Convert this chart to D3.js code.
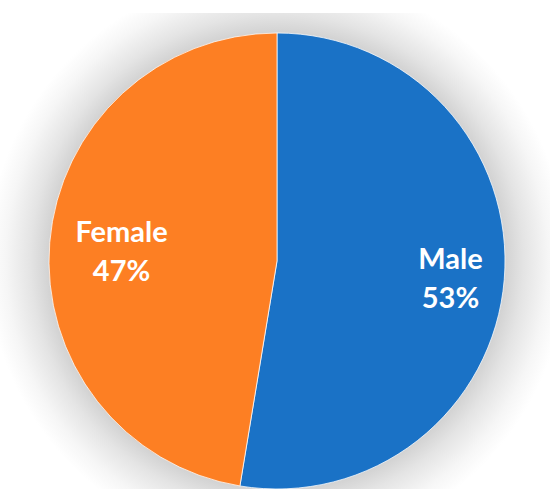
<!DOCTYPE html>
<html>
<head>
<meta charset="utf-8">
<script src="https://cdn.jsdelivr.net/npm/d3@7"></script>
<style>
  body { margin: 0; background: #fff; }
  svg { display: block; }
</style>
</head>
<body>
<svg id="chart"></svg>
<script>
const categories = ['Male', 'Female'];
const values = [52.6, 47.4];
const labels = ['53%', '47%'];
const colors = ['#1a72c6', '#fd7f23'];

const width = 550, height = 504;
const cx = 277, cy = 261, radius = 228;

const svg = d3.select('#chart')
    .attr('width', width)
    .attr('height', height);

// soft glow behind the pie
const defs = svg.append('defs');
const glow = defs.append('radialGradient')
    .attr('id', 'glow')
    .attr('gradientUnits', 'userSpaceOnUse')
    .attr('cx', cx).attr('cy', cy).attr('r', radius + 62);
const k = radius / (radius + 62);
[[0, '#d2d2d2'], [k, '#d2d2d2'], [k + (1 - k) * 0.3, '#e4e4e4'], [k + (1 - k) * 0.7, '#f6f6f6'], [1, '#ffffff']]
    .forEach(([o, c]) => glow.append('stop').attr('offset', o).attr('stop-color', c));

svg.append('rect')
    .attr('x', 0).attr('y', 13)
    .attr('width', width).attr('height', 476)
    .attr('fill', 'url(#glow)');

const data = categories.map((c, i) => ({ name: c, value: values[i], label: labels[i], color: colors[i] }));

const pie = d3.pie().sort(null).value(d => d.value);
const arc = d3.arc().innerRadius(0).outerRadius(radius);
const labelArc = d3.arc().innerRadius(165).outerRadius(165);

const g = svg.append('g').attr('transform', `translate(${cx},${cy})`);

const arcs = pie(data);

g.selectAll('path')
    .data(arcs)
    .enter().append('path')
    .attr('d', arc)
    .attr('fill', d => d.data.color)
    .attr('stroke', '#ffffff')
    .attr('stroke-width', 0.75);

const lbl = g.selectAll('.label')
    .data(arcs)
    .enter().append('text')
    .attr('class', 'label')
    .attr('transform', d => {
        const [x, y] = labelArc.centroid(d);
        return `translate(${x + 9},${y})`;
    })
    .attr('text-anchor', 'middle')
    .attr('fill', '#ffffff')
    .style('font-family', 'Lato, "Open Sans", sans-serif')
    .style('font-weight', 'bold')
    .style('font-size', '29px');

lbl.append('tspan')
    .attr('x', 0).attr('dy', '-0.2em')
    .text(d => d.data.name);
lbl.append('tspan')
    .attr('x', 0).attr('dy', '1.35em')
    .text(d => d.data.label);
</script>
</body>
</html>
